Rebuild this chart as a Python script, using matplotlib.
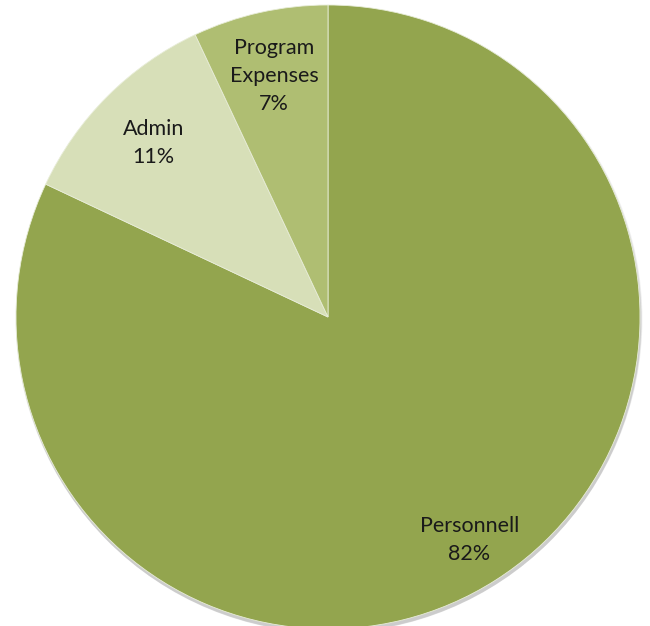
import numpy as np
import matplotlib
matplotlib.use("Agg")
import matplotlib.pyplot as plt
from matplotlib.patches import Circle

categories = ["Personnell", "Admin", "Program\nExpenses"]
values = [82, 11, 7]
colors = ["#93A54E", "#D7DFB8", "#AFBE72"]
label_r = [0.845, 0.79, 0.79]

plt.rcParams['font.family'] = ['Lato', 'DejaVu Sans']

fig = plt.figure(figsize=(6.5, 6.26), dpi=100)
ax = fig.add_axes([0, 0, 1, 1])
cx, cy, R = 328, 309, 312

# soft shadow
for i, a in enumerate([0.05, 0.05, 0.05, 0.06]):
    ax.add_patch(Circle((cx + 1, cy - 2 - i * 0.7), R + 1.5 - i * 0.5, color="black", alpha=a, lw=0, zorder=0))

wedges, _ = ax.pie(values, colors=colors, startangle=90, counterclock=False,
                   center=(cx, cy), radius=R,
                   wedgeprops=dict(edgecolor="#E8EDD8", linewidth=0.6))
for w in wedges:
    w.set_zorder(1)

total = sum(values)
cum = 0
for cat, v, lr in zip(categories, values, label_r):
    mid = cum + v / 2
    cum += v
    ang = np.deg2rad(90 - 360 * mid / total)
    x = cx + lr * R * np.cos(ang)
    y = cy + lr * R * np.sin(ang)
    ax.text(x, y, f"{cat}\n{v}%", ha="center", va="center", fontsize=15.5,
            color="#1a1a1a", linespacing=1.5, zorder=3)

ax.set_xlim(0, 650)
ax.set_ylim(0, 626)
ax.set_aspect("equal")
ax.axis("off")
fig.savefig("out.png", dpi=100)
